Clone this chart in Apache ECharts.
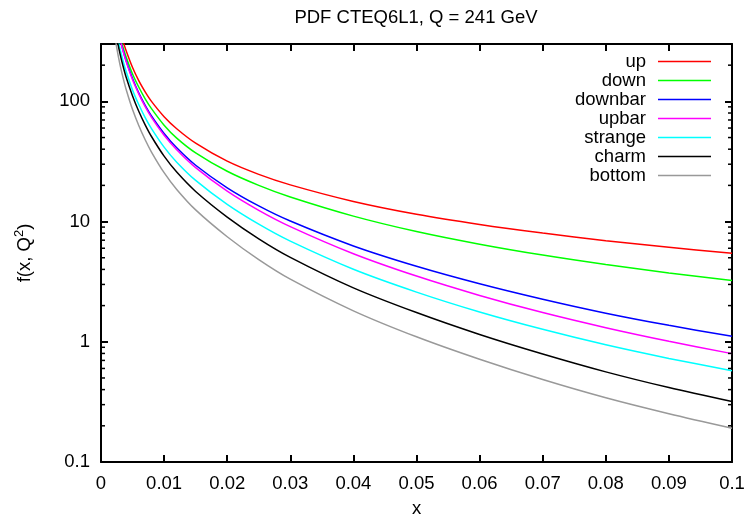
<!DOCTYPE html>
<html><head><meta charset="utf-8">
<script src="https://cdn.jsdelivr.net/npm/echarts@6/dist/echarts.min.js"></script>
<style>html,body{margin:0;padding:0;background:#fff}#c{width:755px;height:523px}</style>
</head><body><div id="c"></div>
<script>
const xValues     = [0.002, 0.0025, 0.003, 0.0035, 0.004, 0.005, 0.006, 0.007, 0.008, 0.01, 0.012, 0.015, 0.02, 0.025, 0.03, 0.04, 0.05, 0.06, 0.07, 0.08, 0.09, 0.1];
const upVals      = [695, 507, 393, 316, 262, 191, 148, 120, 100, 74.6, 59.2, 44.9, 31.8, 24.7, 20.2, 14.7, 11.5, 9.46, 8.02, 6.93, 6.11, 5.44];
const downVals    = [622, 453, 350, 281, 233, 169, 131, 105, 87.1, 63.4, 49.5, 37.3, 26.2, 20.0, 16.0, 11.1, 8.26, 6.48, 5.26, 4.39, 3.74, 3.23];
const downbarVals = [621, 443, 336, 265, 217, 155, 117, 92.7, 75.7, 54.1, 41.1, 29.4, 19.1, 13.5, 10.1, 6.27, 4.25, 3.04, 2.26, 1.73, 1.37, 1.11];
const upbarVals   = [610, 436, 330, 261, 213, 151, 115, 90.4, 73.6, 52.2, 39.6, 28.1, 17.9, 12.4, 9.08, 5.40, 3.52, 2.43, 1.75, 1.31, 1.01, 0.797];
const strangeVals = [524, 367, 276, 217, 176, 124, 93.6, 73.2, 59.3, 41.6, 31.2, 22.0, 13.9, 9.51, 6.87, 4.01, 2.59, 1.77, 1.27, 0.944, 0.727, 0.574];
const charmVals   = [486, 336, 251, 196, 158, 111, 82.3, 63.8, 51.0, 35.0, 25.8, 17.8, 10.9, 7.19, 5.04, 2.81, 1.75, 1.15, 0.791, 0.562, 0.416, 0.318];
const bottomVals  = [411, 278, 203, 157, 125, 85.5, 62.7, 47.9, 37.9, 25.5, 18.5, 12.5, 7.48, 4.83, 3.32, 1.81, 1.10, 0.715, 0.485, 0.342, 0.252, 0.191];
const seriesNames = ['up', 'down', 'downbar', 'upbar', 'strange', 'charm', 'bottom'];
const xTickLabels = ['0', '0.01', '0.02', '0.03', '0.04', '0.05', '0.06', '0.07', '0.08', '0.09', '0.1'];
const yTickLabels = ['0.1', '1', '10', '100'];
const minorTickValues = [0.2, 0.3, 0.4, 0.5, 0.6, 0.7, 0.8, 0.9, 2, 3, 4, 5, 6, 7, 8, 9, 20, 30, 40, 50, 60, 70, 80, 90, 200];

const allVals = [upVals, downVals, downbarVals, upbarVals, strangeVals, charmVals, bottomVals];
const colors = ['#ff0000', '#00ff00', '#0000ff', '#ff00ff', '#00ffff', '#000000', '#999999'];
const FONT = "'Liberation Sans', Arial, sans-serif";
const FS = 18.5;

const chart = echarts.init(document.getElementById('c'), null, {renderer: 'canvas'});

const lineSeries = seriesNames.map((n, k) => ({
  type: 'line', name: n, xAxisIndex: 0, yAxisIndex: 0,
  data: xValues.map((x, i) => [x, allVals[k][i]]),
  symbol: 'none', showSymbol: false, smooth: 0.3,
  clip: true, animation: false,
  lineStyle: {color: colors[k], width: 1.5},
  itemStyle: {color: colors[k]}
}));

const minorSeries = {
  type: 'custom', name: 'minor', silent: true, clip: false, animation: false, z: 10,
  xAxisIndex: 0, yAxisIndex: 0,
  data: minorTickValues.map(v => [0, v]),
  renderItem(params, api) {
    const v = api.value(1);
    const l = api.coord([0, v]);
    const r = api.coord([0.1, v]);
    return {type: 'group', children: [
      {type: 'line', shape: {x1: l[0], y1: l[1], x2: l[0] + 4, y2: l[1]}, style: {stroke: '#000', lineWidth: 1.5}},
      {type: 'line', shape: {x1: r[0] - 4, y1: r[1], x2: r[0], y2: r[1]}, style: {stroke: '#000', lineWidth: 1.5}}
    ]};
  }
};

const xFmt = v => { const s = String(+(+v).toFixed(3)); return xTickLabels.indexOf(s) >= 0 ? s : ''; };
const yFmt = v => { const s = String(+(+v).toPrecision(6)); return yTickLabels.indexOf(s) >= 0 ? s : ''; };

const axisLineStyle = {show: true, onZero: false, lineStyle: {color: '#000', width: 2}};
const tickStyle = {show: true, inside: true, length: 7, lineStyle: {color: '#000', width: 2}};

chart.setOption({
  animation: false,
  backgroundColor: '#fff',
  title: {
    text: 'PDF CTEQ6L1, Q = 241 GeV', left: 416, top: 8, textAlign: 'center', padding: 0,
    textStyle: {fontFamily: FONT, fontSize: FS, fontWeight: 'normal', color: '#000'}
  },
  grid: {left: 101, right: 23, top: 44, bottom: 59, containLabel: false},
  legend: {
    orient: 'vertical', right: 44, top: 52, align: 'right', padding: 0,
    itemWidth: 53, itemHeight: 19, itemGap: 0, selectedMode: false,
    icon: 'path://M0,0H53V1.5H0Z',
    data: seriesNames,
    textStyle: {fontFamily: FONT, fontSize: FS, color: '#000', lineHeight: 19, padding: [0, 7, 0, 0]}
  },
  xAxis: [{
    type: 'value', position: 'bottom', min: 0, max: 0.1, interval: 0.01,
    name: 'x', nameLocation: 'middle', nameGap: 37,
    nameTextStyle: {fontFamily: FONT, fontSize: FS, color: '#000'},
    axisLine: axisLineStyle, axisTick: tickStyle,
    axisLabel: {fontFamily: FONT, fontSize: FS, color: '#000', margin: 12, formatter: xFmt},
    splitLine: {show: false}
  }, {
    type: 'value', position: 'top', min: 0, max: 0.1, interval: 0.01,
    axisLine: axisLineStyle, axisTick: tickStyle,
    axisLabel: {show: false}, splitLine: {show: false}
  }],
  yAxis: [{
    type: 'log', logBase: 10, position: 'left', min: 0.1, max: 300,
    name: 'f(x, Q{sup|2})', nameLocation: 'middle', nameGap: 64, nameRotate: 90,
    nameTextStyle: {fontFamily: FONT, fontSize: FS, color: '#000', lineHeight: 24,
      rich: {sup: {fontFamily: FONT, fontSize: 13, color: '#000', verticalAlign: 'top', lineHeight: 24}}},
    axisLine: axisLineStyle, axisTick: tickStyle,
    axisLabel: {fontFamily: FONT, fontSize: FS, color: '#000', margin: 11, formatter: yFmt, showMaxLabel: false},
    splitLine: {show: false}, minorTick: {show: false}
  }, {
    type: 'log', logBase: 10, position: 'right', min: 0.1, max: 300,
    axisLine: axisLineStyle, axisTick: tickStyle,
    axisLabel: {show: false}, splitLine: {show: false}
  }],
  series: lineSeries.concat([minorSeries])
});
</script>
</body></html>
